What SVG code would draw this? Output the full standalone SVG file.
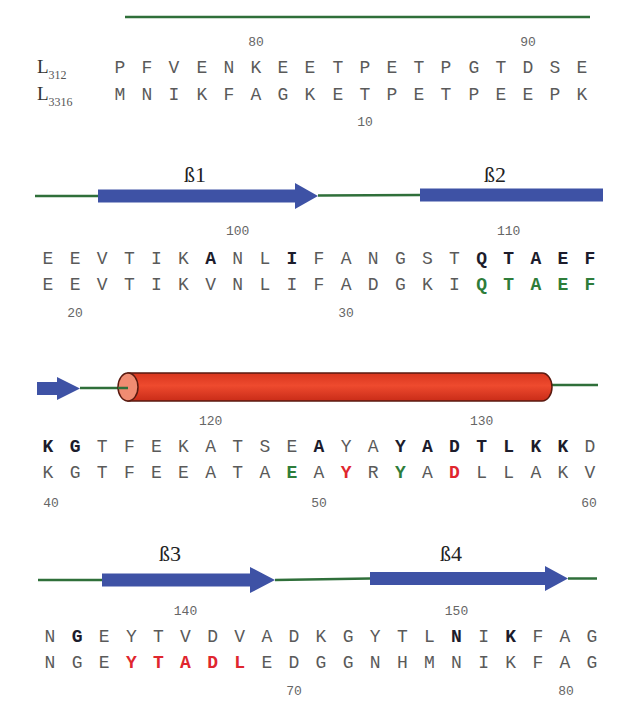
<svg xmlns="http://www.w3.org/2000/svg" width="618" height="723" viewBox="0 0 618 723">
<style>
.seq{font-family:"Liberation Mono","DejaVu Sans Mono",monospace;font-size:18px;fill:#5a5a5a;text-anchor:middle}
.b{font-weight:bold;fill:#1c1c2c}
.g{font-weight:bold;fill:#2e7d3a}
.r{font-weight:bold;fill:#e0262e}
.num{font-family:"Liberation Mono","DejaVu Sans Mono",monospace;font-size:13px;fill:#666;text-anchor:middle}
.lab{font-family:"Liberation Serif","DejaVu Serif",serif;font-size:22px;fill:#222;text-anchor:middle}
.nm{font-family:"Liberation Serif","DejaVu Serif",serif;font-size:19px;fill:#333}
.sub{font-size:12px;fill:#555}
.strand{fill:#3e52a5}
.loop{stroke:#2f6f3a;stroke-width:2.5;fill:none}
</style>
<defs>
<linearGradient id="cyl" x1="0" y1="0" x2="0" y2="1">
<stop offset="0" stop-color="#d8361e"/>
<stop offset="0.45" stop-color="#ee4a2e"/>
<stop offset="1" stop-color="#c92c18"/>
</linearGradient>
</defs>
<rect width="618" height="723" fill="#fff"/>

<g id="connectors">
<line class="loop" x1="125" y1="17" x2="590" y2="17" stroke-width="3"/>
<line class="loop" x1="35" y1="196" x2="98" y2="196"/>
<line class="loop" x1="318" y1="195.5" x2="420" y2="195"/>
<line class="loop" x1="80" y1="388" x2="120" y2="388"/>
<line class="loop" x1="550" y1="385" x2="598" y2="385"/>
<line class="loop" x1="38" y1="580" x2="102" y2="580"/>
<line class="loop" x1="275" y1="580" x2="370" y2="578.5"/>
<line class="loop" x1="568" y1="578.5" x2="597" y2="578.5"/>
</g>

<g id="beta1">
<polygon class="strand" points="98,189.5 295,189.5 295,183 318,196 295,209 295,202.5 98,202.5"/>
<text class="lab" x="195" y="182">ß1</text>
</g>
<g id="beta2">
<rect class="strand" x="420" y="188.5" width="183" height="13"/>
<text class="lab" x="495" y="182">ß2</text>
</g>
<g id="beta2-end">
<polygon class="strand" points="37,382 57,382 57,377 80,388.5 57,400 57,395 37,395"/>
</g>
<g id="helix">
<path d="M128,373 L542,373 A10,14 0 0 1 542,401 L128,401 Z" fill="url(#cyl)" stroke="#5a1a10" stroke-width="1.5"/>
<ellipse cx="128" cy="387" rx="10" ry="14" fill="#f08c72" stroke="#5a1a10" stroke-width="1.5"/>
<line class="loop" x1="118" y1="388" x2="128" y2="388"/>
</g>
<g id="beta3">
<polygon class="strand" points="102,573.5 250,573.5 250,567 275,580 250,593 250,586.5 102,586.5"/>
<text class="lab" x="170" y="561">ß3</text>
</g>
<g id="beta4">
<polygon class="strand" points="370,572 545,572 545,566 568,578.5 545,591 545,585 370,585"/>
<text class="lab" x="451" y="561">ß4</text>
</g>

<g id="names">
<text class="nm" x="37" y="73">L<tspan class="sub" dy="6">312</tspan></text>
<text class="nm" x="37" y="100">L<tspan class="sub" dy="6">3316</tspan></text>
</g>

<g id="block1">
<text class="num" x="256" y="46">80</text>
<text class="num" x="528" y="46">90</text>
<text class="seq" x="120 147 174 202 229 256 283 310 338 365 392 419 446 474 501 528 555 582" y="73">PFVENKEETPETPGTDSE</text>
<text class="seq" x="120 147 174 202 229 256 283 310 338 365 392 419 446 474 501 528 555 582" y="100">MNIKFAGKETPETPEEPK</text>
<text class="num" x="365" y="126">10</text>
</g>

<g id="block2">
<text class="num" x="237.7" y="235">100</text>
<text class="num" x="508.7" y="235">110</text>
<text class="seq" y="264"><tspan x="48 75.1 102.2 129.3 156.4 183.5">EEVTIK</tspan><tspan class="b" x="210.6">A</tspan><tspan x="237.7 264.8">NL</tspan><tspan class="b" x="291.9">I</tspan><tspan x="319 346.1 373.2 400.3 427.4 454.5">FANGST</tspan><tspan class="b" x="481.6 508.7 535.8 562.9 590">QTAEF</tspan></text>
<text class="seq" y="290"><tspan x="48 75.1 102.2 129.3 156.4 183.5 210.6 237.7 264.8 291.9 319 346.1 373.2 400.3 427.4 454.5">EEVTIKVNLIFADGKI</tspan><tspan class="g" x="481.6 508.7 535.8 562.9 590">QTAEF</tspan></text>
<text class="num" x="75" y="317">20</text>
<text class="num" x="346" y="317">30</text>
</g>

<g id="block3">
<text class="num" x="210.6" y="425">120</text>
<text class="num" x="481.6" y="425">130</text>
<text class="seq" y="452"><tspan class="b" x="48 75.1">KG</tspan><tspan x="102.2 129.3 156.4 183.5 210.6 237.7 264.8 291.9">TFEKATSE</tspan><tspan class="b" x="319">A</tspan><tspan x="346.1 373.2">YA</tspan><tspan class="b" x="400.3 427.4 454.5 481.6 508.7 535.8 562.9">YADTLKK</tspan><tspan x="590">D</tspan></text>
<text class="seq" y="478"><tspan x="48 75.1 102.2 129.3 156.4 183.5 210.6 237.7 264.8">KGTFEEATA</tspan><tspan class="g" x="291.9">E</tspan><tspan x="319">A</tspan><tspan class="r" x="346.1">Y</tspan><tspan x="373.2">R</tspan><tspan class="g" x="400.3">Y</tspan><tspan x="427.4">A</tspan><tspan class="r" x="454.5">D</tspan><tspan x="481.6 508.7 535.8 562.9 590">LLAKV</tspan></text>
<text class="num" x="51" y="507">40</text>
<text class="num" x="319" y="507">50</text>
<text class="num" x="589" y="507">60</text>
</g>

<g id="block4">
<text class="num" x="185.5" y="615">140</text>
<text class="num" x="456.5" y="615">150</text>
<text class="seq" y="642"><tspan x="50">N</tspan><tspan class="b" x="77.1">G</tspan><tspan x="104.2 131.3 158.4 185.5 212.6 239.7 266.8 293.9 321 348.1 375.2 402.3 429.4">EYTVDVADKGYTL</tspan><tspan class="b" x="456.5">N</tspan><tspan x="483.6">I</tspan><tspan class="b" x="510.7">K</tspan><tspan x="537.8 564.9 592">FAG</tspan></text>
<text class="seq" y="668"><tspan x="50 77.1 104.2">NGE</tspan><tspan class="r" x="131.3 158.4 185.5 212.6 239.7">YTADL</tspan><tspan x="266.8 293.9 321 348.1 375.2 402.3 429.4 456.5 483.6 510.7 537.8 564.9 592">EDGGNHMNIKFAG</tspan></text>
<text class="num" x="294" y="695">70</text>
<text class="num" x="566" y="695">80</text>
</g>
</svg>
